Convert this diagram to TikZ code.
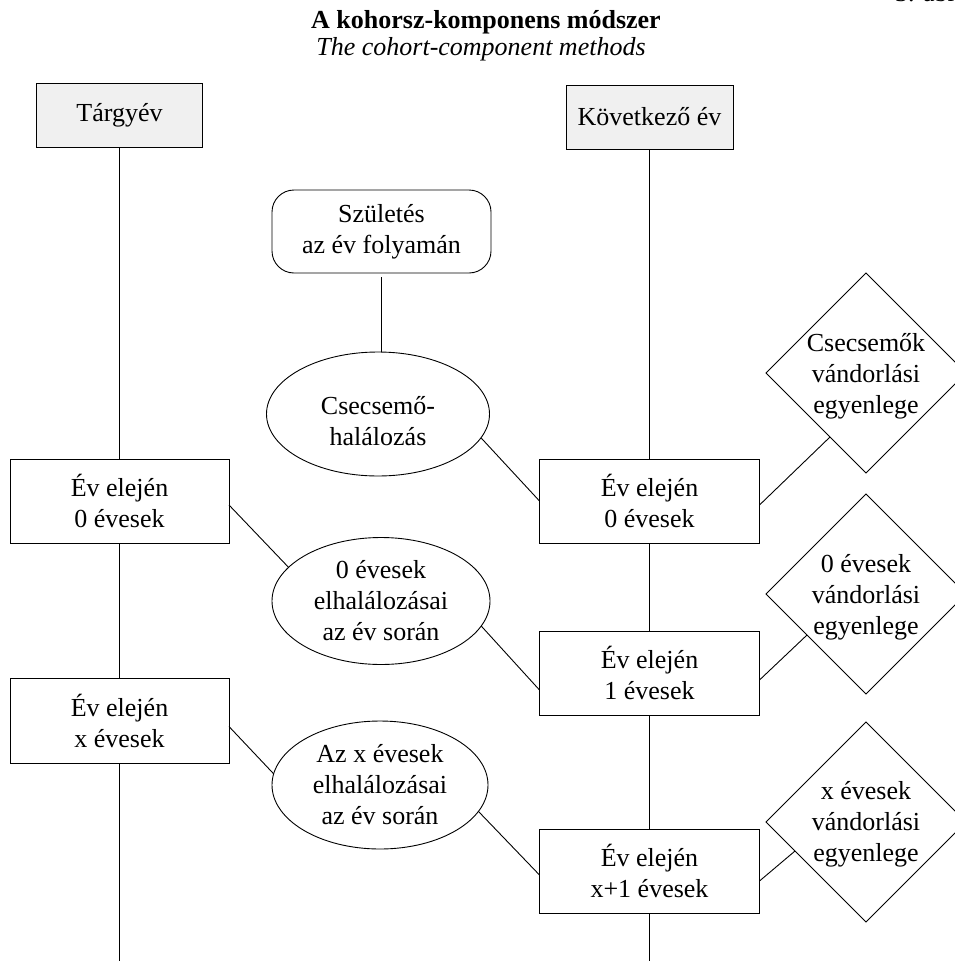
\documentclass[tikz,border=0pt]{standalone}
\usepackage{fontspec}
\setmainfont{Liberation Serif}
\usetikzlibrary{shapes.geometric,calc}
\definecolor{hdrgray}{HTML}{F0F0F0}
\begin{document}
\begin{tikzpicture}[x=1pt,y=-1pt,
  every node/.style={font=\fontsize{26}{31}\selectfont, align=center, inner sep=0pt, outer sep=0pt},
  conn/.style={line width=0.9pt, draw=black},
  hdrbox/.style={draw, line width=0.9pt, fill=hdrgray, minimum width=166pt, minimum height=64pt},
  agebox/.style={draw, line width=0.9pt, minimum width=219pt, minimum height=84pt},
  oval/.style={draw, ellipse, line width=0.9pt, minimum width=218pt, minimum height=127pt},
  rbox/.style={draw, line width=0.9pt, rounded corners=22pt, minimum width=219pt, minimum height=83pt},
  migr/.style={draw, diamond, line width=0.9pt, minimum width=200pt, minimum height=200pt},
]
\useasboundingbox (0,0) rectangle (955,961);
\begin{scope}
  \clip (0,0) rectangle (955,961);
  \node[anchor=base west] (fig) at (895,1.5) {3. ábra};
\end{scope}

% titles
\node[anchor=base, font=\fontsize{26}{31}\selectfont\bfseries] (title) at (486,28) {A kohorsz-komponens módszer};
\node[anchor=base, font=\fontsize{26}{31}\selectfont\itshape] (subtitle) at (481,55) {The cohort-component methods};

% headers
\node[hdrbox] (T) at (119.5,115) {Tárgyév};
\node[hdrbox, minimum width=167pt] (K) at (649.5,117) {Következő év};

% births and infant deaths
\node[rbox] (S) at (381.5,231.5) {Születés\\az év folyamán};
\node[oval, minimum width=223pt, minimum height=124pt,
      label={[yshift=-7pt]center:Csecsemő-\\halálozás}] (e1) at (378,414) {};

% left column
\node[agebox] (L0) at (119.5,501) {Év elején\\0 évesek};
\node[agebox, minimum height=85pt] (Lx) at (119.5,720.5) {Év elején\\x évesek};
\coordinate (botL) at (119.5,961);

% middle ellipses
\node[oval, label={center:0 évesek\\elhalálozásai\\az év során}] (e2) at (381,601) {};
\node[oval, minimum width=216pt, minimum height=128pt,
      label={center:Az x évesek\\elhalálozásai\\az év során}] (e3) at (380,785) {};

% right column
\node[agebox, minimum width=220pt] (b1) at (649.5,501) {Év elején\\0 évesek};
\node[agebox, minimum width=220pt] (b2) at (649.5,673) {Év elején\\1 évesek};
\node[agebox, minimum width=220pt] (b3) at (649.5,871) {Év elején\\x+1 évesek};
\coordinate (botR) at (649.5,961);

% migration diamonds
\node[migr, label={[yshift=-3pt]center:Csecsemők\\vándorlási\\egyenlege}] (d1) at (866,373) {};
\node[migr, label={[yshift=-3pt]center:0 évesek\\vándorlási\\egyenlege}] (d2) at (866,594) {};
\node[migr, label={[yshift=-2pt]center:x évesek\\vándorlási\\egyenlege}] (d3) at (866,822) {};

% vertical connectors
\draw[conn] (T.south) -- (L0.north);
\draw[conn] (L0.south) -- (Lx.north);
\draw[conn] (Lx.south) -- (botL);
\draw[conn] (K.south) -- (b1.north);
\draw[conn] (b1.south) -- (b2.north);
\draw[conn] (b2.south) -- (b3.north);
\draw[conn] (b3.south) -- (botR);
\draw[conn] ([yshift=-4pt]S.south) -- (S.south |- e1.north);

% diagonal connectors
\draw[conn] (e1.-13) -- (b1.west);
\draw[conn] ($(L0.east)+(0,4)$) -- (e2.160);
\draw[conn] (e2.-14) -- ($(b2.west)+(0,17)$);
\draw[conn] ($(Lx.east)+(0,6)$) -- (e3.174);
\draw[conn] (e3.-15) -- ($(b3.west)+(0,4)$);
\draw[conn] ($(b1.east)+(0,4)$) -- ($(d1.west)!0.64!(d1.south)$);
\draw[conn] ($(b2.east)+(0,7)$) -- ($(d2.west)!0.41!(d2.south)$);
\draw[conn] ($(b3.east)+(0,10)$) -- ($(d3.west)!0.29!(d3.south)$);
\end{tikzpicture}
\end{document}
